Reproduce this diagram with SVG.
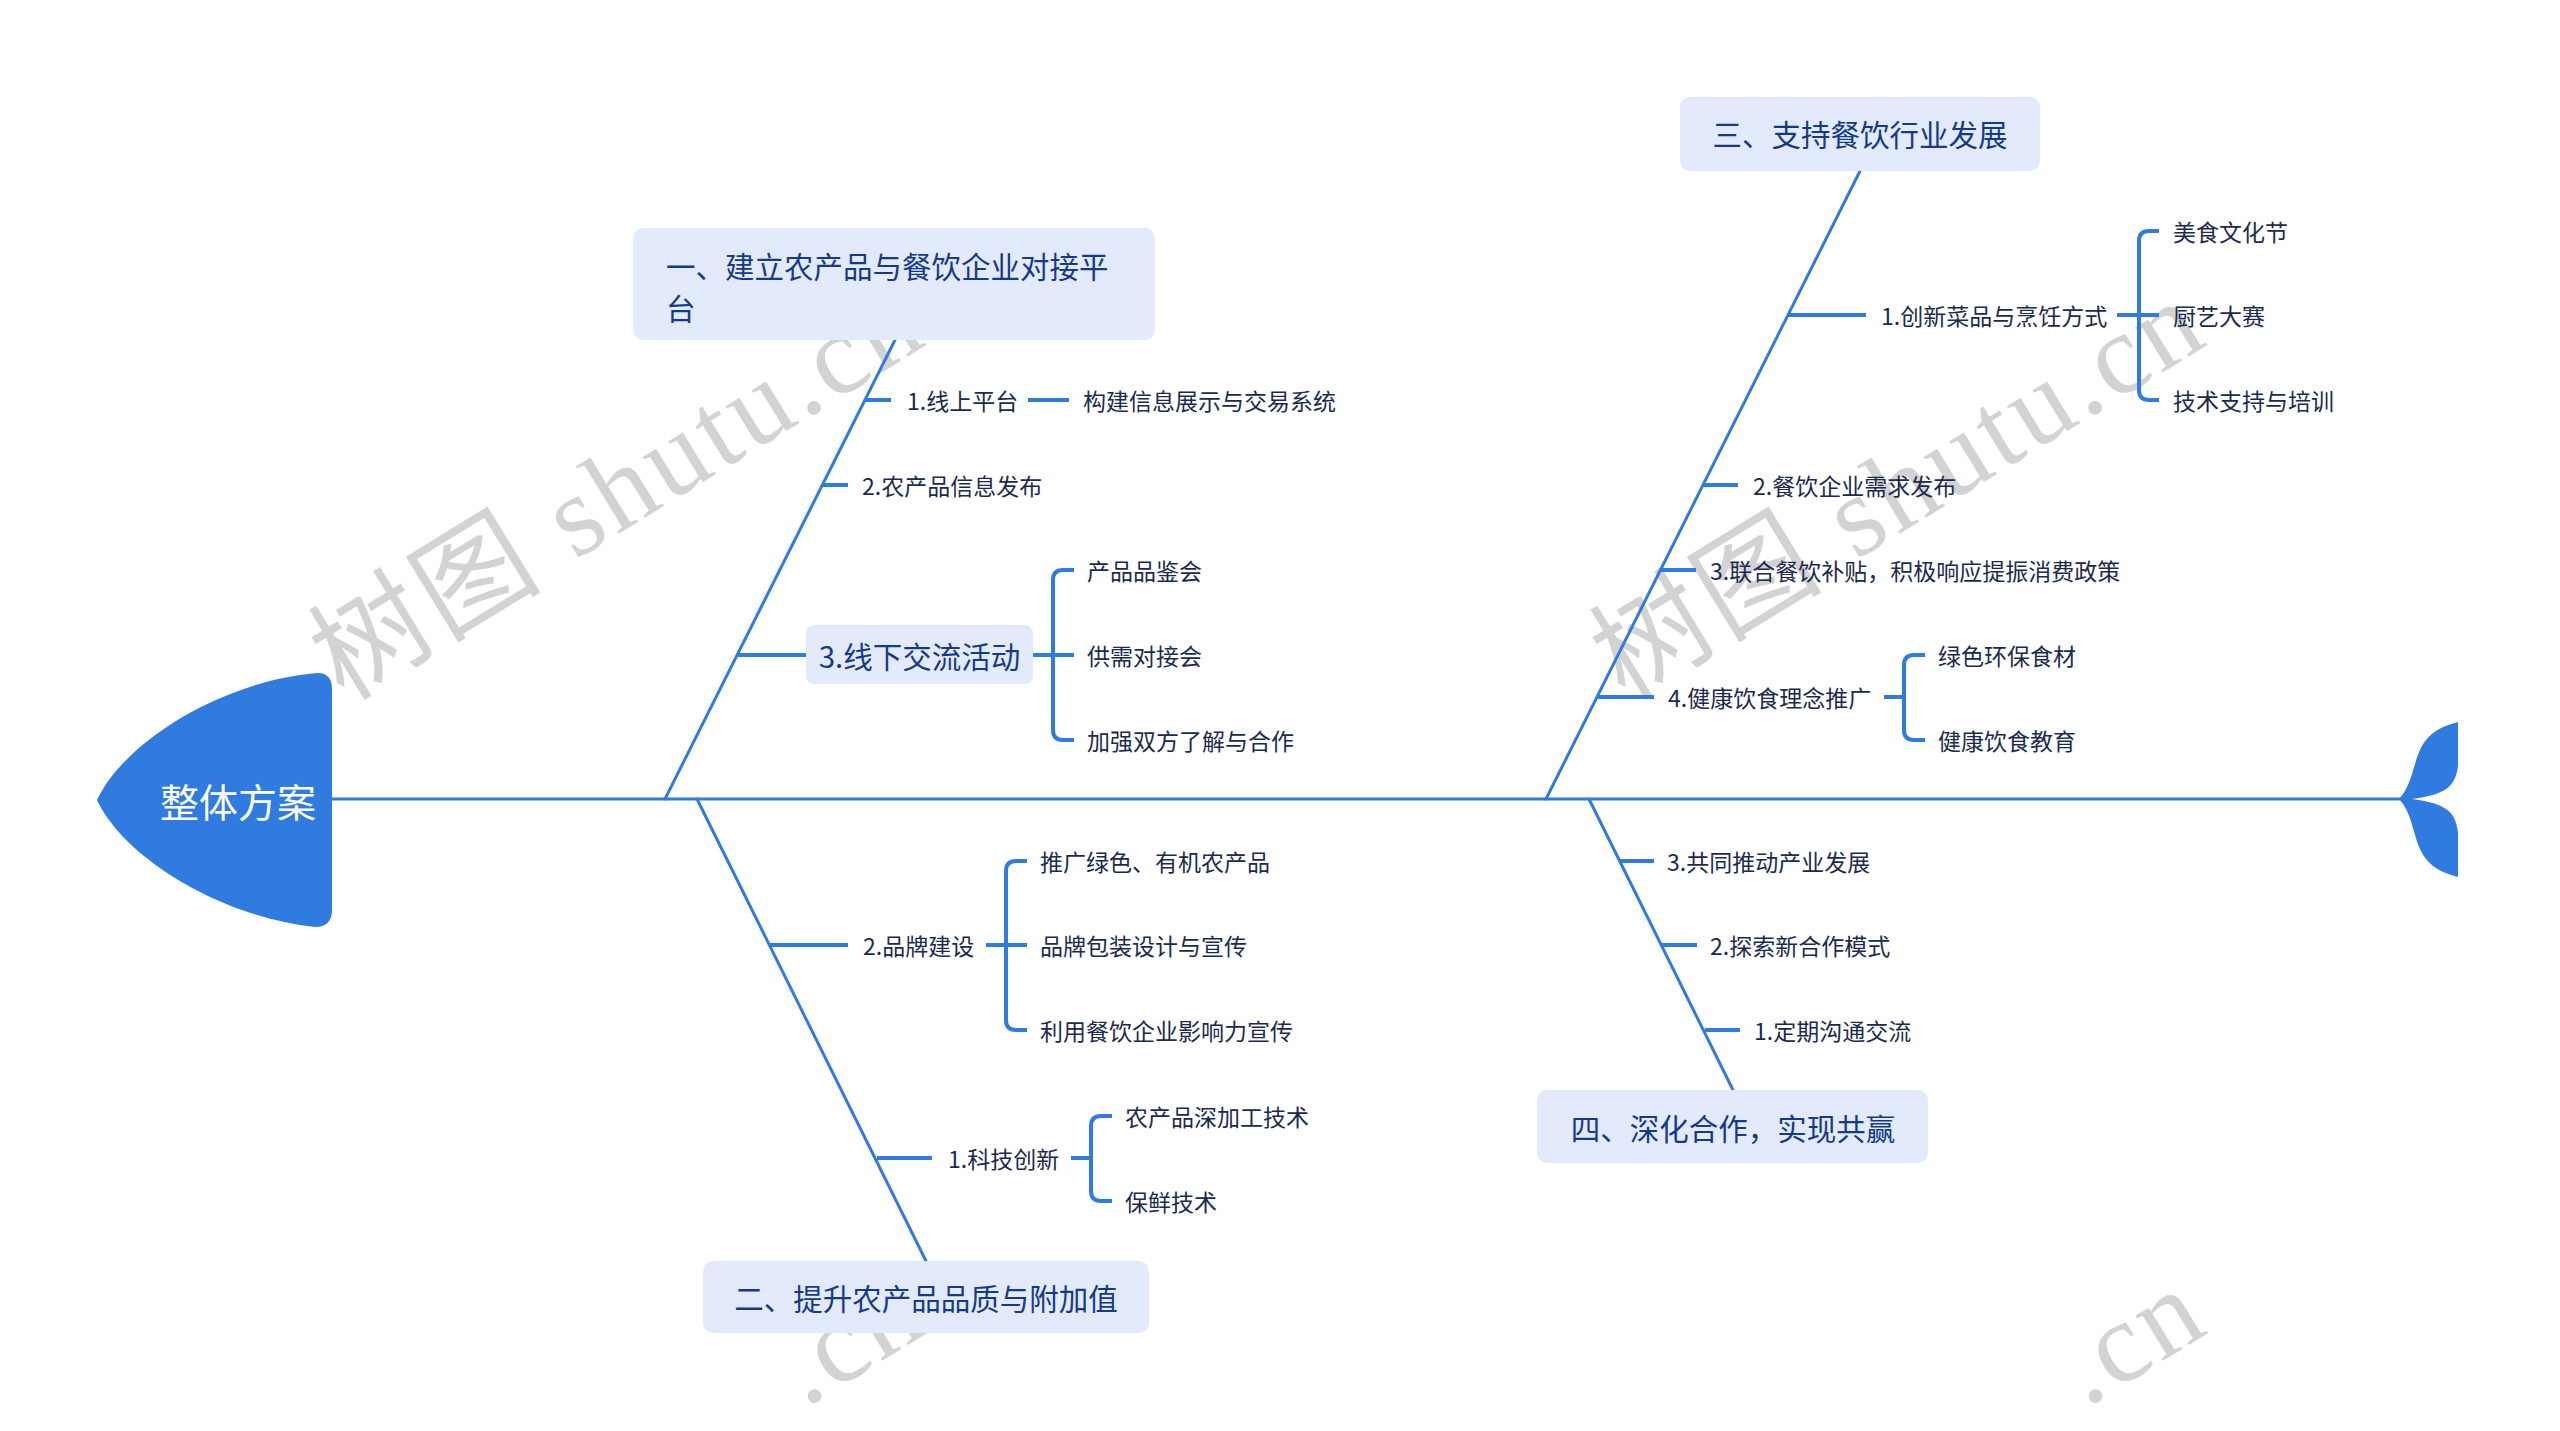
<svg xmlns="http://www.w3.org/2000/svg" width="2560" height="1431" viewBox="0 0 2560 1431">
<style>
.wm{font-family:"Liberation Serif","Noto Sans CJK SC",serif;font-size:115px;fill:#d3d3d3;letter-spacing:4px}
.bone{stroke:#2f7be0;stroke-width:3;fill:none;stroke-linecap:round}
.stub{stroke:#2f7be0;stroke-width:4;fill:none}
.br{stroke:#2f7be0;stroke-width:4;fill:none}
.box{fill:#e2eafc}
.t1{font-family:"Noto Sans CJK SC","Noto Sans",sans-serif;font-size:29.5px;fill:#153a8a;dominant-baseline:central}
.t2{font-family:"Noto Sans CJK SC","Noto Sans",sans-serif;font-size:23px;fill:#1b2a50;dominant-baseline:central}
.head{font-family:"Noto Sans CJK SC","Noto Sans",sans-serif;font-size:39px;fill:#ffffff;dominant-baseline:central}
</style>
<rect width="2560" height="1431" fill="#ffffff"/>
<g id="watermarks">
<text class="wm" transform="translate(344,702) rotate(-31.5)">树图 shutu.cn</text>
<text class="wm" transform="translate(1625,702) rotate(-31.5)">树图 shutu.cn</text>
<text class="wm" transform="translate(805,1408) rotate(-31.5)">.cn</text>
<text class="wm" transform="translate(2086,1408) rotate(-31.5)">.cn</text>
</g>
<g id="connectors">
<line class="bone" x1="330" y1="799" x2="2402" y2="799"/>
<line class="bone" x1="895" y1="340" x2="665" y2="799"/>
<line class="bone" x1="697" y1="799" x2="926" y2="1261"/>
<line class="bone" x1="1860" y1="171" x2="1546" y2="799"/>
<line class="bone" x1="1589" y1="799" x2="1733" y2="1090"/>
<path class="stub" d="M865 400H891M822 485H848M737 655H806M770 945H848M877 1158H932M1788 315H1866M1703 485H1738M1661 570H1696M1598 697H1654M1620 861H1654M1662 945H1697M1705 1030H1740"/>
<path class="stub" d="M1028 400H1069"/>
<path class="br" d="M1074 570H1063Q1053 570 1053 580V730Q1053 740 1063 740H1074M1033 655H1074"/>
<path class="br" d="M1027 861H1016Q1006 861 1006 871V1020Q1006 1030 1016 1030H1027M986 945H1027"/>
<path class="br" d="M1112 1116H1101Q1091 1116 1091 1126V1191Q1091 1201 1101 1201H1112M1071 1158H1091"/>
<path class="br" d="M2159 231H2149Q2139 231 2139 241V390Q2139 400 2149 400H2159M2117 315H2159"/>
<path class="br" d="M1925 655H1914Q1904 655 1904 665V730Q1904 740 1914 740H1925M1884 697H1904"/>
</g>
<g id="head">
<path d="M318 673Q332 673 332 690V910Q332 927 315 927C225 918 125 860 97 800C125 740 225 680 318 673Z" fill="#2f7be0"/>
<text class="head" x="238" y="800" text-anchor="middle">整体方案</text>
</g>
<g id="tail">
<path d="M2399 799C2412 785 2413 765 2420 750C2428 733 2440 727 2458 722V765C2456 790 2440 795 2412 799C2440 803 2456 808 2458 833V877C2440 872 2428 866 2420 849C2413 834 2412 813 2399 799Z" fill="#2f7be0"/>
</g>
<g id="n1">
<rect class="box" x="633" y="228" width="522" height="112" rx="10"/>
<text class="t1" x="666" y="265">一、建立农产品与餐饮企业对接平</text>
<text class="t1" x="666" y="307">台</text>
</g>
<g id="n1-1"><text class="t2" x="907" y="400">1.线上平台</text></g>
<g id="n1-1-1"><text class="t2" x="1083" y="400">构建信息展示与交易系统</text></g>
<g id="n1-2"><text class="t2" x="862" y="485">2.农产品信息发布</text></g>
<g id="n1-3">
<rect class="box" x="806" y="625" width="227" height="59" rx="8"/>
<text class="t1" x="919.5" y="655" text-anchor="middle">3.线下交流活动</text>
</g>
<g id="n1-3-1"><text class="t2" x="1087" y="570">产品品鉴会</text></g>
<g id="n1-3-2"><text class="t2" x="1087" y="655">供需对接会</text></g>
<g id="n1-3-3"><text class="t2" x="1087" y="740">加强双方了解与合作</text></g>
<g id="n2">
<rect class="box" x="703" y="1261" width="446" height="72" rx="10"/>
<text class="t1" x="926" y="1297" text-anchor="middle">二、提升农产品品质与附加值</text>
</g>
<g id="n2-2"><text class="t2" x="863" y="945">2.品牌建设</text></g>
<g id="n2-2-1"><text class="t2" x="1040" y="861">推广绿色、有机农产品</text></g>
<g id="n2-2-2"><text class="t2" x="1040" y="945">品牌包装设计与宣传</text></g>
<g id="n2-2-3"><text class="t2" x="1040" y="1030">利用餐饮企业影响力宣传</text></g>
<g id="n2-1"><text class="t2" x="948" y="1158">1.科技创新</text></g>
<g id="n2-1-1"><text class="t2" x="1125" y="1116">农产品深加工技术</text></g>
<g id="n2-1-2"><text class="t2" x="1125" y="1201">保鲜技术</text></g>
<g id="n3">
<rect class="box" x="1680" y="97" width="360" height="74" rx="10"/>
<text class="t1" x="1860" y="133" text-anchor="middle">三、支持餐饮行业发展</text>
</g>
<g id="n3-1"><text class="t2" x="1881" y="315">1.创新菜品与烹饪方式</text></g>
<g id="n3-1-1"><text class="t2" x="2173" y="231">美食文化节</text></g>
<g id="n3-1-2"><text class="t2" x="2173" y="315">厨艺大赛</text></g>
<g id="n3-1-3"><text class="t2" x="2173" y="400">技术支持与培训</text></g>
<g id="n3-2"><text class="t2" x="1753" y="485">2.餐饮企业需求发布</text></g>
<g id="n3-3"><text class="t2" x="1710" y="570">3.联合餐饮补贴，积极响应提振消费政策</text></g>
<g id="n3-4"><text class="t2" x="1668" y="697">4.健康饮食理念推广</text></g>
<g id="n3-4-1"><text class="t2" x="1938" y="655">绿色环保食材</text></g>
<g id="n3-4-2"><text class="t2" x="1938" y="740">健康饮食教育</text></g>
<g id="n4">
<rect class="box" x="1537" y="1090" width="391" height="73" rx="10"/>
<text class="t1" x="1733" y="1127" text-anchor="middle">四、深化合作，实现共赢</text>
</g>
<g id="n4-3"><text class="t2" x="1667" y="861">3.共同推动产业发展</text></g>
<g id="n4-2"><text class="t2" x="1710" y="945">2.探索新合作模式</text></g>
<g id="n4-1"><text class="t2" x="1754" y="1030">1.定期沟通交流</text></g>
</svg>
